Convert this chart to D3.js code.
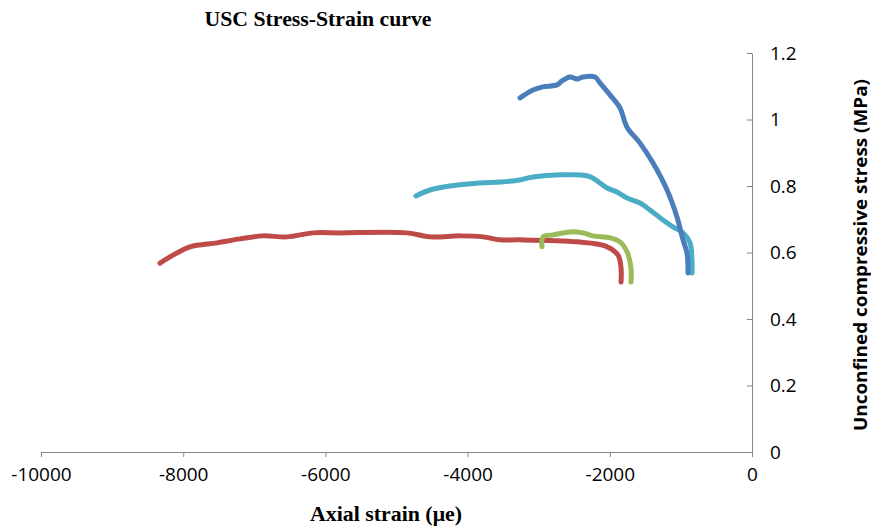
<!DOCTYPE html>
<html>
<head>
<meta charset="utf-8">
<script src="https://cdnjs.cloudflare.com/ajax/libs/d3/7.8.5/d3.min.js"></script>
<style>
body { margin: 0; background: #fff; }
.axis path, .axis line { stroke: #868686; }
.axis text { font-family: "Open Sans", sans-serif; font-size: 19px; fill: #000; }
</style>
</head>
<body>
<div id="chart"></div>
<script>
// readings: [axial strain (μe), stress (MPa)]
var blueData = [[-3263, 1.065], [-3080, 1.089], [-2940, 1.098], [-2743, 1.104], [-2672, 1.116],
    [-2560, 1.128], [-2461, 1.122], [-2377, 1.128], [-2208, 1.128], [-2138, 1.110],
    [-1997, 1.074], [-1857, 1.035], [-1758, 0.977], [-1575, 0.929], [-1392, 0.869],
    [-1195, 0.788], [-1055, 0.707], [-970, 0.638], [-914, 0.598], [-900, 0.538]];
var cyanData = [[-4726, 0.770], [-4529, 0.788], [-4248, 0.800], [-3826, 0.809], [-3544, 0.812],
    [-3263, 0.818], [-3080, 0.827], [-2307, 0.830], [-2138, 0.809], [-2039, 0.794],
    [-1899, 0.782], [-1758, 0.764], [-1575, 0.749], [-1435, 0.728], [-1252, 0.698],
    [-1111, 0.677], [-970, 0.659], [-872, 0.629], [-844, 0.577], [-844, 0.538]];
var redData = [[-8326, 0.568], [-8143, 0.592], [-7904, 0.617], [-7525, 0.629], [-7201, 0.641],
    [-6878, 0.650], [-6540, 0.647], [-6174, 0.659], [-5795, 0.659], [-4852, 0.659],
    [-4529, 0.647], [-4107, 0.650], [-3783, 0.647], [-3544, 0.638], [-3263, 0.638],
    [-2461, 0.632], [-2068, 0.620], [-1885, 0.592], [-1842, 0.553], [-1842, 0.511]];
var greenData = [[-2954, 0.617], [-2939, 0.647], [-2799, 0.653], [-2560, 0.662], [-2377, 0.659],
    [-2236, 0.650], [-1997, 0.644], [-1857, 0.632], [-1758, 0.602], [-1702, 0.553], [-1702, 0.511]];

var xTicks = [-10000, -8000, -6000, -4000, -2000, 0];
var yTicks = [0, 0.2, 0.4, 0.6, 0.8, 1, 1.2];

var series = [
    { name: "red", color: "#be4b48", values: redData },
    { name: "green", color: "#9bbb59", values: greenData },
    { name: "cyan", color: "#4bacc6", values: cyanData },
    { name: "blue", color: "#4a7ebb", values: blueData }
];

var width = 871, height = 527;

var svg = d3.select("#chart").append("svg")
    .attr("width", width)
    .attr("height", height);

var x = d3.scaleLinear().domain([-10000, 0]).range([41, 752]),
    y = d3.scaleLinear().domain([0, 1.2]).range([452, 53]);

svg.append("g")
    .attr("class", "axis axis--x")
    .attr("transform", "translate(0,452)")
    .call(d3.axisBottom(x)
        .tickValues(xTicks)
        .tickSizeInner(5)
        .tickSizeOuter(0)
        .tickPadding(11)
        .tickFormat(function (d) { return String(d); }));

svg.append("g")
    .attr("class", "axis axis--y")
    .attr("transform", "translate(752,0)")
    .call(d3.axisRight(y)
        .tickValues(yTicks)
        .tickSizeInner(-5)
        .tickSizeOuter(0)
        .tickPadding(18)
        .tickFormat(function (d) { return String(+d.toFixed(1)); }));

var line = d3.line()
    .x(function (d) { return x(d[0]); })
    .y(function (d) { return y(d[1]); })
    .curve(d3.curveCatmullRom.alpha(0.5));

svg.selectAll(".series")
    .data(series)
    .enter().append("path")
    .attr("class", "series")
    .attr("d", function (d) { return line(d.values); })
    .style("fill", "none")
    .style("stroke", function (d) { return d.color; })
    .style("stroke-width", 5)
    .style("stroke-linecap", "round")
    .style("stroke-linejoin", "round");

svg.append("text")
    .attr("x", 318)
    .attr("y", 26)
    .attr("text-anchor", "middle")
    .attr("textLength", 227)
    .attr("lengthAdjust", "spacingAndGlyphs")
    .style("font", "bold 20px 'Liberation Serif', serif")
    .text("USC Stress-Strain curve");

svg.append("text")
    .attr("x", 386)
    .attr("y", 521)
    .attr("text-anchor", "middle")
    .attr("textLength", 152)
    .attr("lengthAdjust", "spacingAndGlyphs")
    .style("font", "bold 21px 'Liberation Serif', serif")
    .text("Axial strain (\u03bce)");

svg.append("text")
    .attr("transform", "translate(867,255) rotate(-90)")
    .attr("text-anchor", "middle")
    .attr("textLength", 352)
    .attr("lengthAdjust", "spacingAndGlyphs")
    .style("font", "bold 17px 'Open Sans', sans-serif")
    .text("Unconfined compressive stress (MPa)");
</script>
</body>
</html>
